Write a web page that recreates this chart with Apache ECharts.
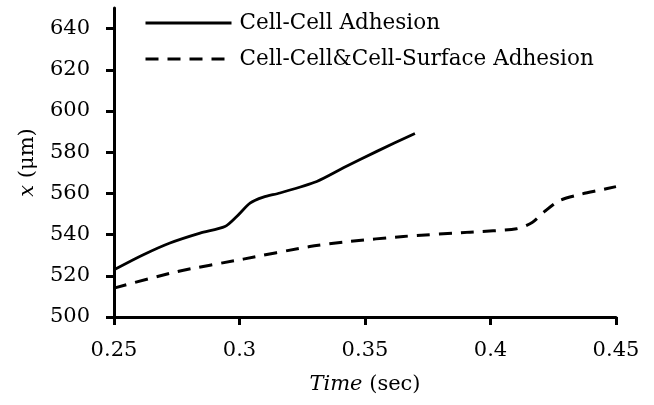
<!DOCTYPE html>
<html>
<head>
<meta charset="utf-8">
<script src="https://cdn.jsdelivr.net/npm/echarts@6/dist/echarts.min.js"></script>
<style>
  html, body { margin: 0; padding: 0; background: #fff; }
  #main { width: 654px; height: 405px; }
</style>
</head>
<body>
<div id="main"></div>
<script type="text/javascript">
    // 数据
    var seriesNames = ['Cell-Cell Adhesion', 'Cell-Cell&Cell-Surface Adhesion'];
    var cellTime = [0.25, 0.2617, 0.2723, 0.2843, 0.2942, 0.2989, 0.3042, 0.3095, 0.3161, 0.3308, 0.3414, 0.3547, 0.3699];
    var cellX = [522.9, 530.2, 535.9, 540.7, 543.9, 548.8, 555.3, 558.2, 560.2, 565.8, 572.4, 580.4, 589.1];
    var surfTime = [0.25, 0.275, 0.3015, 0.328, 0.3434, 0.3653, 0.3918, 0.4104, 0.4166, 0.4217, 0.4276, 0.4357, 0.4436, 0.45];
    var surfX = [514.0, 522.0, 528.1, 534.2, 536.6, 539.1, 541.2, 542.8, 545.9, 551.4, 556.6, 559.5, 561.6, 563.3];
    var yTicks = [500, 520, 540, 560, 580, 600, 620, 640];

    function pairs(xs, ys) {
        var out = [];
        for (var i = 0; i < xs.length; i++) { out.push([xs[i], ys[i]]); }
        return out;
    }

    var font = 'DejaVu Serif';
    var myChart = echarts.init(document.getElementById('main'));
    var option = {
        backgroundColor: '#fff',
        animation: false,
        grid: { left: 114, right: 38, top: 8, bottom: 88 },
        legend: {
            orient: 'vertical',
            left: 144,
            top: 12,
            padding: 0,
            itemWidth: 86,
            itemHeight: 14,
            itemGap: 14,
            itemStyle: { opacity: 0 },
            lineStyle: { width: 3 },
            textStyle: { fontFamily: font, fontSize: 21.5, color: '#000', padding: [0, 0, 0, 3] },
            data: seriesNames
        },
        xAxis: {
            type: 'value',
            min: 0.25,
            max: 0.45,
            interval: 0.05,
            name: '{i|Time} (sec)',
            nameLocation: 'middle',
            nameGap: 57,
            nameTextStyle: {
                fontFamily: font, fontSize: 21, color: '#000',
                rich: { i: { fontFamily: font, fontSize: 21, fontStyle: 'italic', color: '#000' } }
            },
            axisLine: { lineStyle: { color: '#000', width: 3 } },
            axisTick: { inside: false, length: 8, lineStyle: { color: '#000', width: 3 } },
            axisLabel: { fontFamily: font, fontSize: 21, color: '#000', margin: 23 },
            splitLine: { show: false }
        },
        yAxis: {
            type: 'value',
            min: 500,
            max: 650,
            name: '{i|x} (μm)',
            nameLocation: 'middle',
            nameGap: 76,
            nameRotate: 90,
            nameTextStyle: {
                fontFamily: font, fontSize: 21, color: '#000',
                rich: { i: { fontFamily: font, fontSize: 21, fontStyle: 'italic', color: '#000' } }
            },
            axisLine: { show: true, lineStyle: { color: '#000', width: 3 } },
            axisTick: { show: true, length: 8, customValues: yTicks, lineStyle: { color: '#000', width: 3 } },
            axisLabel: { fontFamily: font, fontSize: 21, color: '#000', margin: 24, customValues: yTicks },
            splitLine: { show: false }
        },
        series: [
            {
                name: seriesNames[0],
                type: 'line',
                data: pairs(cellTime, cellX),
                smooth: 0.25,
                symbol: 'none',
                lineStyle: { color: '#000', width: 2.8, type: 'solid' },
                itemStyle: { color: '#000' }
            },
            {
                name: seriesNames[1],
                type: 'line',
                data: pairs(surfTime, surfX),
                smooth: 0.25,
                symbol: 'none',
                lineStyle: { color: '#000', width: 3, type: [13, 9] },
                itemStyle: { color: '#000' }
            }
        ]
    };
    myChart.setOption(option);
</script>
</body>
</html>
